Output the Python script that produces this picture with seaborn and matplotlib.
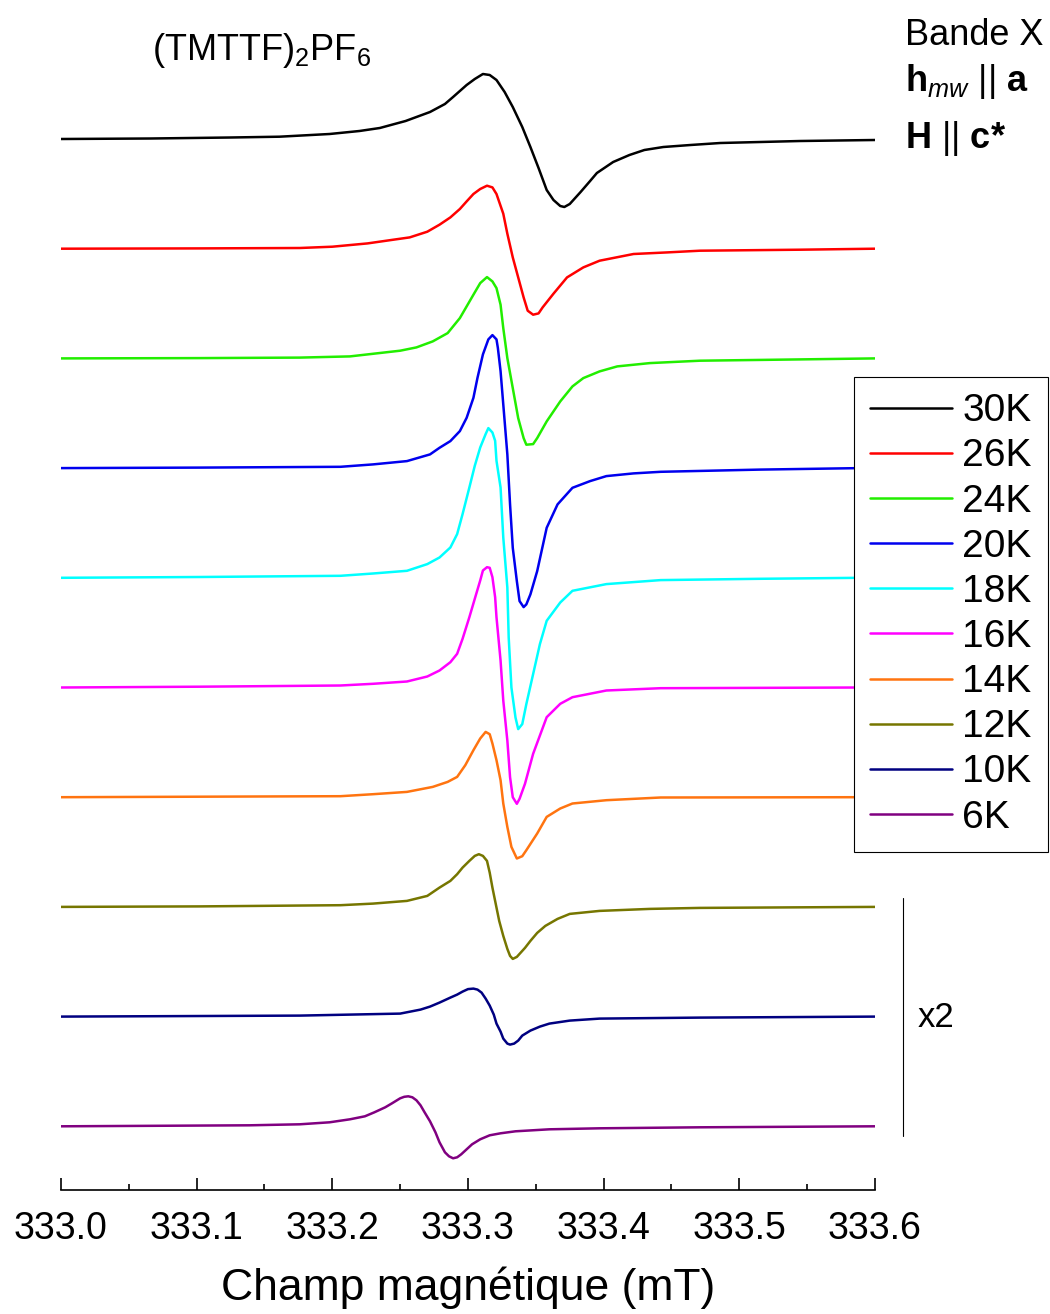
import numpy as np
import pandas as pd
import matplotlib
matplotlib.use("Agg")
import matplotlib.pyplot as plt
from matplotlib.lines import Line2D
import seaborn as sns

# ---------------- data (field in mT, derivative signal in arb. units) ----------------
temperatures = ["30K", "26K", "24K", "20K", "18K", "16K", "14K", "12K", "10K", "6K"]
colors = ["#000000", "#FF0000", "#22EE00", "#0000EE", "#00FFFF",
          "#FF00FF", "#FF7410", "#767600", "#000080", "#800080"]

field_30K = [333.000, 333.066, 333.125, 333.161, 333.198, 333.220, 333.235, 333.254, 333.272, 333.283,
             333.289, 333.294, 333.299, 333.305, 333.311, 333.316, 333.321, 333.327, 333.333, 333.340,
             333.346, 333.352, 333.358, 333.363, 333.368, 333.371, 333.375, 333.383, 333.390, 333.395,
             333.407, 333.419, 333.430, 333.444, 333.464, 333.486, 333.545, 333.600]
signal_30K = [0, 0.5, 1.5, 2.3, 5, 8, 11, 18, 27, 35,
              42, 48, 54, 60, 65, 64, 59, 47, 32, 12,
              -8, -29, -51, -61, -67, -68, -65, -53, -42, -34,
              -23, -16, -11, -8, -6, -4, -2, -1]

field_26K = [333.000, 333.102, 333.176, 333.200, 333.226, 333.245, 333.257, 333.270, 333.279, 333.287,
             333.294, 333.299, 333.304, 333.309, 333.314, 333.318, 333.321, 333.326, 333.329, 333.333,
             333.337, 333.341, 333.344, 333.348, 333.352, 333.355, 333.363, 333.373, 333.385, 333.397,
             333.422, 333.447, 333.471, 333.545, 333.600]
signal_26K = [0, 0.3, 0.7, 2, 5.3, 9, 11.3, 17, 24, 31.3,
              39.7, 47.3, 54.7, 59.7, 63, 61.3, 54.7, 35, 15, -8.7,
              -28.7, -48.7, -62, -66, -64.7, -58.7, -45, -28.7, -18.7, -12,
              -5.3, -3.7, -2, -1, 0]

field_24K = [333.000, 333.102, 333.176, 333.213, 333.250, 333.262, 333.274, 333.285, 333.294, 333.299,
             333.304, 333.309, 333.314, 333.318, 333.321, 333.324, 333.326, 333.329, 333.333, 333.337,
             333.341, 333.343, 333.348, 333.351, 333.358, 333.368, 333.377, 333.385, 333.397, 333.410,
             333.434, 333.471, 333.545, 333.600]
signal_24K = [0, 0.3, 0.8, 2, 7.7, 11, 17, 25.3, 40.3, 52,
              63.7, 75.3, 81.3, 77, 70.3, 53.7, 30.3, 0.3, -29.7, -59.7,
              -79.7, -86.3, -85.7, -79.7, -63, -43, -28, -19.7, -13, -8,
              -4.7, -2.3, -1, 0]

field_20K = [333.000, 333.102, 333.206, 333.230, 333.255, 333.272, 333.279, 333.287, 333.294, 333.299,
             333.304, 333.307, 333.311, 333.315, 333.318, 333.321, 333.322, 333.324, 333.326, 333.329,
             333.331, 333.333, 333.336, 333.338, 333.341, 333.343, 333.346, 333.351, 333.358, 333.366,
             333.377, 333.390, 333.402, 333.422, 333.442, 333.515, 333.589, 333.600]
signal_20K = [0, 0.5, 1.3, 3.7, 7, 13.7, 20.3, 27, 37, 50.3,
              70.3, 90.3, 113.7, 128.7, 133, 128.7, 120.3, 97, 63.7, 13.7,
              -36.3, -79.7, -113, -133, -139, -136.3, -126.3, -103, -59.7, -36.3,
              -19.7, -13, -8, -5.3, -3.7, -1.5, 0, 0]

field_18K = [333.000, 333.102, 333.206, 333.230, 333.255, 333.270, 333.279, 333.287, 333.292, 333.296,
             333.301, 333.305, 333.309, 333.313, 333.315, 333.318, 333.320, 333.321, 333.324, 333.326,
             333.329, 333.330, 333.332, 333.335, 333.337, 333.340, 333.343, 333.348, 333.353, 333.358,
             333.368, 333.377, 333.402, 333.442, 333.515, 333.589, 333.600]
signal_18K = [0, 0.8, 2, 4.3, 7, 13.7, 20.3, 30.3, 43.7, 63.7,
              90.3, 112, 130.3, 143.7, 149.7, 145.3, 137, 117, 90.3, 40.3,
              -9.7, -59.7, -109.7, -139.7, -151.3, -146.3, -126.3, -96.3, -66.3, -43,
              -24.7, -13, -6.3, -2.3, -1, 0, 0]

field_16K = [333.000, 333.102, 333.206, 333.230, 333.255, 333.270, 333.279, 333.287, 333.292, 333.296,
             333.301, 333.305, 333.309, 333.311, 333.314, 333.316, 333.318, 333.320, 333.321, 333.324,
             333.326, 333.329, 333.331, 333.333, 333.336, 333.338, 333.342, 333.348, 333.358, 333.368,
             333.377, 333.402, 333.442, 333.589, 333.600]
signal_16K = [0, 0.8, 2, 3.7, 6, 11, 17, 25.3, 33.7, 48.7,
              70.3, 88.7, 107, 117, 120.3, 119.7, 110.3, 90.3, 70.3, 27,
              -13, -53, -89.7, -109.7, -116.3, -111.3, -96.3, -66.3, -29.7, -16.3,
              -9.7, -3, -0.7, 0, 0]

field_14K = [333.000, 333.102, 333.206, 333.230, 333.255, 333.274, 333.285, 333.292, 333.298, 333.304,
             333.309, 333.313, 333.316, 333.318, 333.321, 333.324, 333.326, 333.329, 333.332, 333.336,
             333.340, 333.343, 333.351, 333.358, 333.368, 333.377, 333.402, 333.442, 333.589, 333.600]
signal_14K = [0, 0.5, 1, 3, 5.3, 10.3, 15.3, 20.3, 32, 47,
              58.7, 65.3, 63, 53.7, 37, 17, -6.3, -29.7, -49.7, -61.3,
              -59, -53, -36.3, -19.7, -11.3, -6.3, -3, -0.3, 0, 0]

field_12K = [333.000, 333.102, 333.206, 333.230, 333.255, 333.270, 333.279, 333.287, 333.292, 333.296,
             333.301, 333.305, 333.308, 333.311, 333.314, 333.316, 333.318, 333.321, 333.323, 333.326,
             333.329, 333.331, 333.333, 333.336, 333.338, 333.342, 333.346, 333.351, 333.357, 333.366,
             333.375, 333.397, 333.434, 333.471, 333.600]
signal_12K = [0, 0.5, 1.7, 3.3, 6, 11, 19.3, 26, 32.7, 39.3,
              46, 51, 52.7, 51, 46, 34.3, 19.3, -0.7, -14, -29,
              -42, -49, -52, -50, -47, -41, -34, -26, -19, -12,
              -7, -4, -2, -1, 0]

field_10K = [333.000, 333.176, 333.250, 333.265, 333.272, 333.279, 333.287, 333.292, 333.296, 333.300,
             333.304, 333.307, 333.310, 333.313, 333.316, 333.319, 333.321, 333.324, 333.326, 333.329,
             333.331, 333.334, 333.337, 333.340, 333.346, 333.353, 333.360, 333.375, 333.397, 333.471,
             333.600]
signal_10K = [0, 1, 3, 7, 10, 14, 19, 22, 25, 27.5,
              28, 27, 24, 18, 11, 2, -7, -15, -22, -27,
              -28, -27, -24, -19, -14, -10, -7, -4, -2, -1,
              0]

field_6K = [333.000, 333.139, 333.176, 333.198, 333.213, 333.224, 333.231, 333.239, 333.244, 333.250,
            333.253, 333.256, 333.259, 333.262, 333.265, 333.268, 333.272, 333.276, 333.279, 333.283,
            333.286, 333.289, 333.292, 333.295, 333.299, 333.303, 333.309, 333.316, 333.324, 333.335,
            333.360, 333.397, 333.471, 333.600]
signal_6K = [0, 1, 2, 4, 7, 10, 14, 19, 23, 28,
             29.5, 30, 29, 26, 21, 14, 5, -6, -16, -26,
             -30, -32, -31, -28, -23, -18, -13, -9, -7, -5,
             -3, -2, -1, 0]

fields = [field_30K, field_26K, field_24K, field_20K, field_18K,
          field_16K, field_14K, field_12K, field_10K, field_6K]
signals = [signal_30K, signal_26K, signal_24K, signal_20K, signal_18K,
           signal_16K, signal_14K, signal_12K, signal_10K, signal_6K]

x_ticks = [333.0, 333.1, 333.2, 333.3, 333.4, 333.5, 333.6]
x_tick_labels = ["333.0", "333.1", "333.2", "333.3", "333.4", "333.5", "333.6"]

# ---------------- build table (stacked with a constant vertical step) ----------------
step = 109.7
rows = []
for i, (t, f, s) in enumerate(zip(temperatures, fields, signals)):
    for xv, yv in zip(f, s):
        rows.append({"field": xv, "signal": yv - step * i, "T": t})
df = pd.DataFrame(rows)

# ---------------- style ----------------
sns.set_style("white")
plt.rcParams["font.family"] = ["Liberation Sans", "DejaVu Sans"]
plt.rcParams["mathtext.fontset"] = "custom"
plt.rcParams["mathtext.rm"] = "Liberation Sans"
plt.rcParams["mathtext.it"] = "Liberation Sans:italic"
plt.rcParams["mathtext.bf"] = "Liberation Sans:bold"
plt.rcParams["text.color"] = "black"
plt.rcParams["axes.labelcolor"] = "black"
plt.rcParams["xtick.color"] = "black"
plt.rcParams["xtick.labelcolor"] = "black"

fig = plt.figure(figsize=(10.5, 13.14), dpi=100)
ax = fig.add_axes([61 / 1050, 124 / 1314, 814 / 1050, 1190 / 1314])

palette = dict(zip(temperatures, colors))
sns.lineplot(data=df, x="field", y="signal", hue="T", hue_order=temperatures,
             palette=palette, estimator=None, sort=False, linewidth=1.8, ax=ax)

ax.set_xlim(333.0, 333.6)
ax.set_ylim(-1051, 139)
ax.set_yticks([])
ax.set_ylabel("")
for side in ["top", "right", "left"]:
    ax.spines[side].set_visible(False)
ax.spines["bottom"].set_color("black")
ax.spines["bottom"].set_linewidth(1.2)
ax.set_xticks(x_ticks)
ax.set_xticklabels(x_tick_labels)
ax.set_xticks([333.05, 333.15, 333.25, 333.35, 333.45, 333.55], minor=True)
ax.tick_params(axis="x", which="major", direction="in", length=8.5, width=1.2,
               color="black", labelcolor="black", labelsize=27, pad=15, bottom=True)
ax.tick_params(axis="x", which="minor", direction="in", length=4.3, width=1.2,
               color="black", bottom=True)
ax.set_xlabel("Champ magnétique (mT)", fontsize=32, labelpad=14, color="black")

# legend
handles = [Line2D([0], [0], color=palette[t], lw=1.8) for t in temperatures]
leg = ax.legend(handles, temperatures, loc="upper right",
                bbox_to_anchor=(1048 / 1050, 1 - 377 / 1314), bbox_transform=fig.transFigure,
                fontsize=28, frameon=True, fancybox=False, framealpha=1.0,
                edgecolor="black", borderaxespad=0, borderpad=0.42, labelspacing=0.235,
                handlelength=2.1, handletextpad=0.26)
leg.get_frame().set_linewidth(0.8)
leg.set_zorder(10)
for txt in leg.get_texts():
    txt.set_color("black")

# annotations
fig.text(152 / 1050, 1 - 60 / 1314, r"(TMTTF)$_2$PF$_6$", fontsize=26, va="baseline", ha="left",
         color="black")
fig.text(905 / 1050, 1 - 45 / 1314, "Bande X", fontsize=26, va="baseline", ha="left", color="black")
fig.text(905 / 1050, 1 - 91 / 1314, r"$\mathbf{h}_{\mathit{mw}}$ || $\mathbf{a}$",
         fontsize=26, va="baseline", ha="left", color="black")
fig.text(905 / 1050, 1 - 148 / 1314, r"$\mathbf{H}$ || $\mathbf{c}$$\mathbf{*}$",
         fontsize=26, va="baseline", ha="left", color="black")
fig.text(918 / 1050, 1 - 1027 / 1314, "x2", fontsize=25, va="baseline", ha="left", color="black")
fig.add_artist(Line2D([903 / 1050, 903 / 1050], [1 - 898 / 1314, 1 - 1136 / 1314],
                      transform=fig.transFigure, color="black", lw=0.8))

fig.savefig("out.png", dpi=100, facecolor="white")
